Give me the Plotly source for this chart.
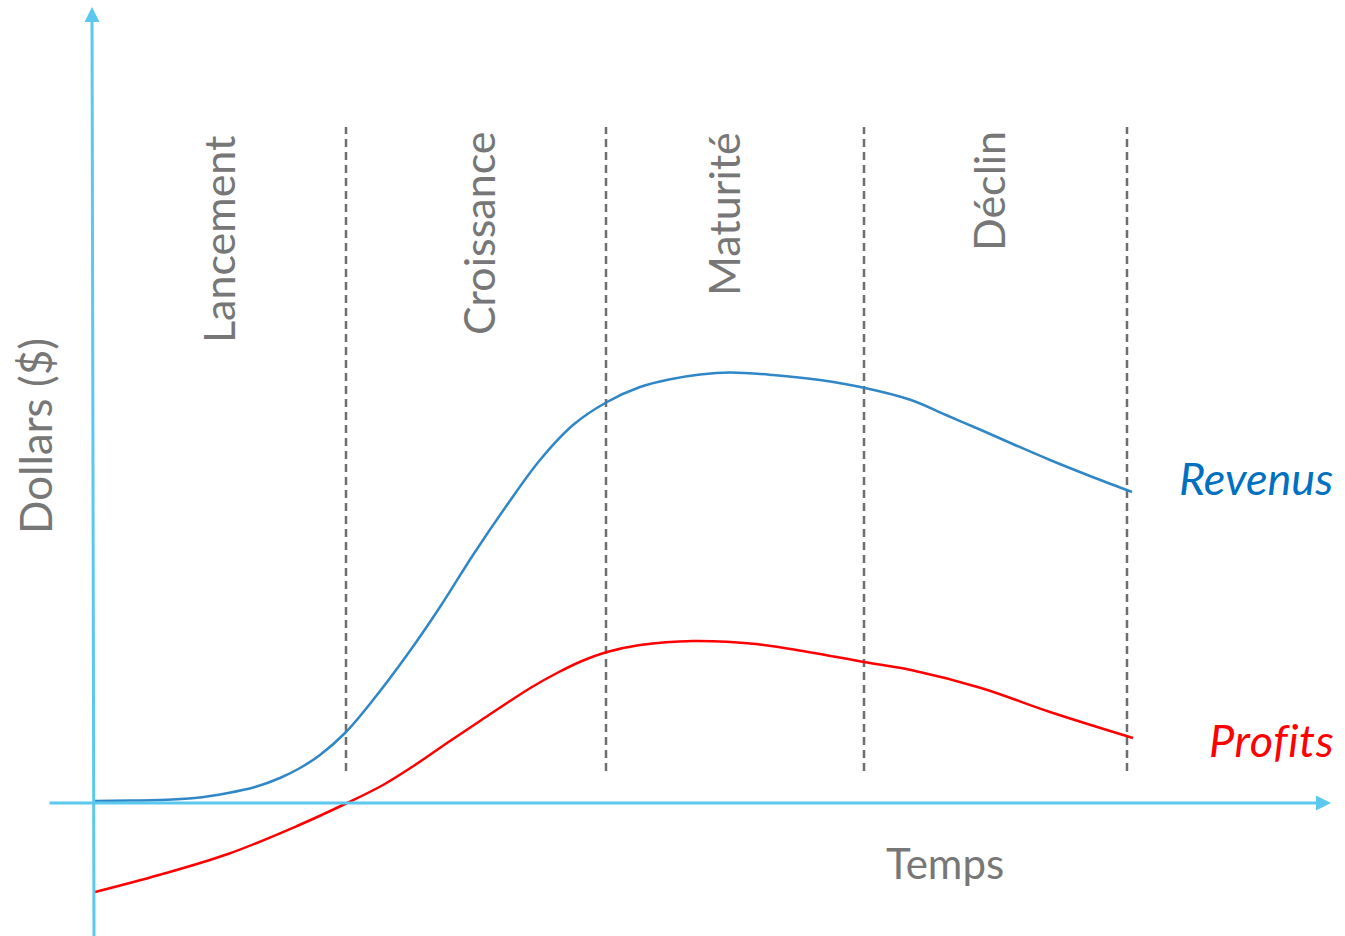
import plotly.graph_objects as go

# Coordinates: time t (x) and dollars v (y); origin where the two axes cross
revenue_t = [0, 35, 65, 100, 133, 160, 185, 205, 225, 250, 278, 312, 345, 378, 412, 445, 478, 512, 545,
             574, 605, 635, 678, 725, 770, 816, 851, 886, 920, 955, 995, 1037]
revenue_v = [2, 2.5, 3, 5, 10, 16, 25, 35, 48, 70, 103, 148, 196, 248, 298, 343, 378, 401, 416,
             423.5, 428.5, 430.5, 428, 423, 415, 403, 388, 373, 358, 343, 327, 311]

profit_t = [0, 64, 133, 202, 250, 288, 320, 355, 385, 412, 437, 462, 487, 512, 545, 598, 661, 713,
            769, 816, 886, 955, 1038]
profit_v = [-89, -72, -51, -23, -1, 18, 38, 62, 82, 100, 116, 130, 142, 151, 158, 162, 159, 151,
            141, 133, 115, 91, 65]

stage_names = ["Lancement", "Croissance", "Maturité", "Déclin"]
stage_label_t = [123, 383, 628, 893]
stage_label_v = [563, 570, 589, 612]
stage_bounds_t = [251, 511, 769, 1032]
bound_top_v = 676
bound_bottom_v = 32

series_names = ["Revenus", "Profits"]
x_title = "Temps"
y_title = "Dollars ($)"

GRAY = "#777777"
AXIS = "#5BC8EE"
BLUE = "#2F87C7"
RED = "#FF0000"
FONT = "Lato"

fig = go.Figure()

# stage boundaries
for bt in stage_bounds_t:
    fig.add_trace(go.Scatter(x=[bt, bt], y=[bound_bottom_v, bound_top_v], mode="lines",
                             line=dict(color="#6E6E6E", width=2.5, dash="8px,5px"),
                             hoverinfo="skip", showlegend=False))

fig.add_trace(go.Scatter(x=revenue_t, y=revenue_v, mode="lines", name=series_names[0],
                         line=dict(color=BLUE, width=2.5, shape="spline", smoothing=1.0),
                         showlegend=False))
fig.add_trace(go.Scatter(x=profit_t, y=profit_v, mode="lines", name=series_names[1],
                         line=dict(color=RED, width=2.5, shape="spline", smoothing=1.0),
                         showlegend=False))

annotations = []
# axes arrows
annotations.append(dict(x=1236, y=0, ax=-47, ay=0, xref="x", yref="y", axref="x", ayref="y",
                        showarrow=True, arrowhead=2, arrowsize=1, arrowwidth=3, arrowcolor=AXIS, text=""))
annotations.append(dict(x=-3, y=796, ax=-1, ay=-140, xref="x", yref="y", axref="x", ayref="y",
                        showarrow=True, arrowhead=2, arrowsize=1, arrowwidth=3, arrowcolor=AXIS, text=""))

for name, lt, lv in zip(stage_names, stage_label_t, stage_label_v):
    annotations.append(dict(x=lt, y=lv, xref="x", yref="y", text=name, showarrow=False,
                            textangle=-90, font=dict(family=FONT, size=43, color=GRAY),
                            xanchor="center", yanchor="middle"))

annotations.append(dict(x=850, y=-60, xref="x", yref="y", text=x_title, showarrow=False,
                        font=dict(family=FONT, size=42, color=GRAY), xanchor="center", yanchor="middle"))
annotations.append(dict(x=-60, y=367, xref="x", yref="y", text=y_title, showarrow=False, textangle=-90,
                        font=dict(family=FONT, size=44, color=GRAY), xanchor="center", yanchor="middle"))
annotations.append(dict(x=1161, y=325, xref="x", yref="y", text="<i>" + series_names[0] + "</i>", showarrow=False,
                        font=dict(family=FONT, size=45, color="#0070C0"), xanchor="center", yanchor="middle"))
annotations.append(dict(x=1176, y=63, xref="x", yref="y",
                        text="<span style='letter-spacing:0.6px'><i>" + series_names[1] + "</i></span>",
                        showarrow=False,
                        font=dict(family=FONT, size=45, color=RED), xanchor="center", yanchor="middle"))

fig.update_layout(
    width=1345, height=936,
    margin=dict(l=0, r=0, t=0, b=0),
    paper_bgcolor="white", plot_bgcolor="white",
    xaxis=dict(range=[-95, 1250], visible=False, fixedrange=True),
    yaxis=dict(range=[-133, 803], visible=False, fixedrange=True),
    annotations=annotations,
    showlegend=False,
)

fig.write_html("out.html", config={"displayModeBar": False},
               post_script="document.body.style.margin='0';")
